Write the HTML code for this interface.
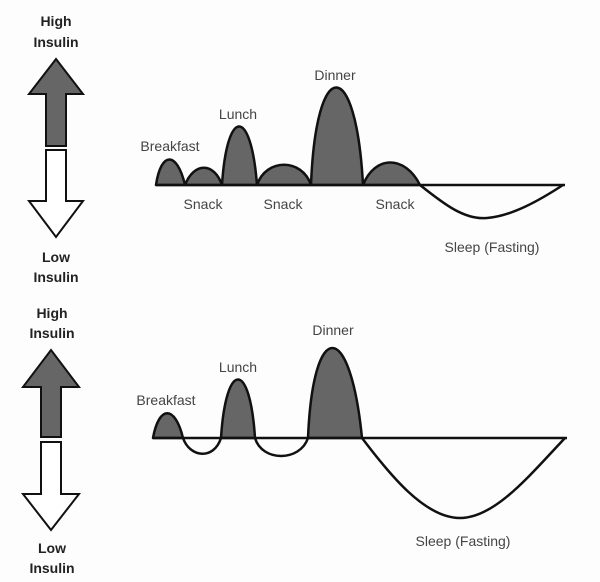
<!DOCTYPE html>
<html><head><style>body{margin:0;background:#fff}svg{display:block}</style></head><body>
<svg width="600" height="582" viewBox="0 0 600 582" xmlns="http://www.w3.org/2000/svg" font-family="Liberation Sans, sans-serif">
<rect width="600" height="582" fill="#fdfdfd"/>
<g font-weight="bold" font-size="14" fill="#222" text-anchor="middle">
<text x="56" y="26">High</text><text x="56" y="47">Insulin</text>
<text x="56" y="262">Low</text><text x="56" y="282">Insulin</text>
<text x="52" y="318">High</text><text x="52" y="338">Insulin</text>
<text x="52" y="553">Low</text><text x="52" y="573">Insulin</text>
</g>
<g stroke="#111" stroke-width="2" stroke-linejoin="miter">
<polygon points="56,59 83,94 66,94 66,146 46,146 46,94 29,94" fill="#666"/>
<polygon points="46,150 66,150 66,201 83,201 56,237 29,201 46,201" fill="#fff"/>
<polygon points="51,350 79,387 61,387 61,437 41,437 41,387 23,387" fill="#666"/>
<polygon points="41,442 61,442 61,494 79,494 51,530 23,494 41,494" fill="#fff"/>
</g>
<g fill="#666" stroke="#111" stroke-width="2.5" stroke-linejoin="round">
<path d="M156,185 C161,151 177,151 185,185 C194,162 214,162 222,185 C227,107 251,107 257,185 C266,158 302,158 311,185 C316,55 356,55 363,185 C375,155 405,155 420,185 Z"/>
<path d="M153,438 C159,405 175,405 183,438 Z"/>
<path d="M221,438 C226,360 250,360 255,438 Z"/>
<path d="M308,438 C313,318 350,318 362,438 Z"/>
</g>
<g fill="none" stroke="#111" stroke-width="2.5" stroke-linejoin="round">
<path d="M156,185 L565,185"/>
<path d="M420,185 C445,205 465,220 487,218 C512,216 540,200 563,185"/>
<path d="M153,438 L567,438"/>
<path d="M183,438 C190,458 214,460 221,438"/>
<path d="M255,438 C262,462 300,462 308,438"/>
<path d="M362,438 C390,475 425,518 460,518 C495,518 530,475 565,438"/>
</g>
<g font-size="14" fill="#444" text-anchor="middle">
<text x="170" y="151">Breakfast</text><text x="238" y="119">Lunch</text><text x="335" y="80">Dinner</text>
<text x="203" y="209">Snack</text><text x="283" y="209">Snack</text><text x="395" y="209">Snack</text>
<text x="492" y="252">Sleep (Fasting)</text>
<text x="166" y="405">Breakfast</text><text x="238" y="372">Lunch</text><text x="333" y="335">Dinner</text>
<text x="463" y="546">Sleep (Fasting)</text>
</g>
</svg>
</body></html>
